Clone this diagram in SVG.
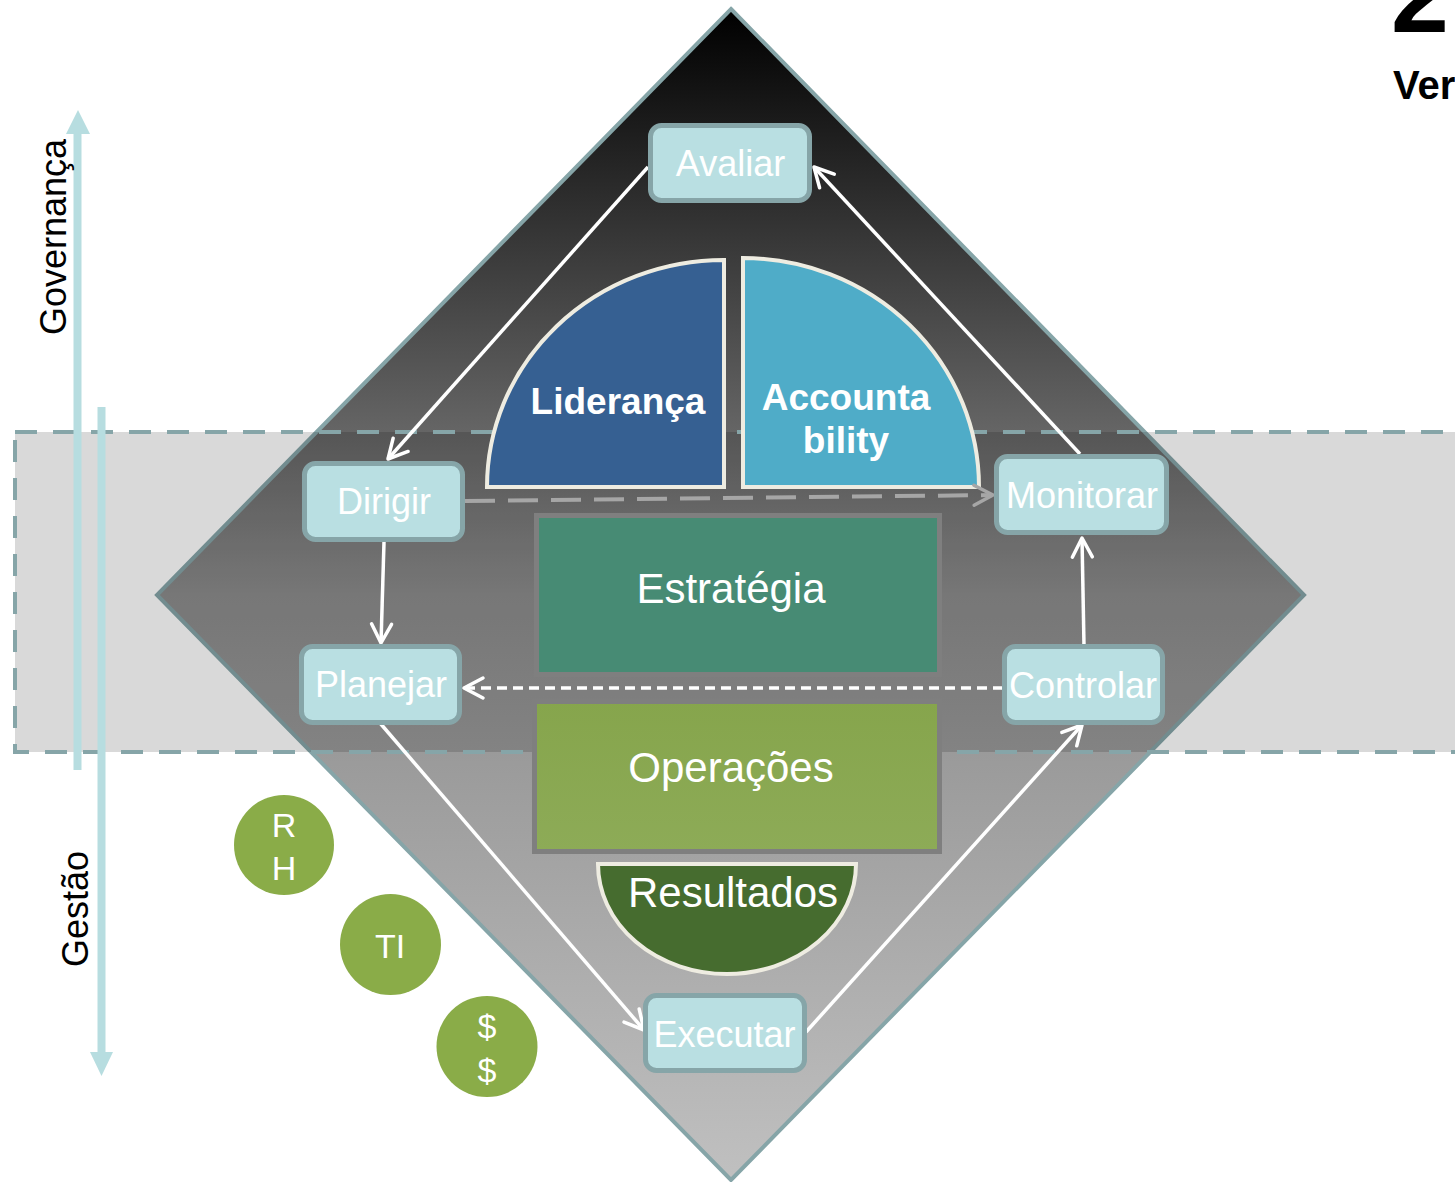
<svg xmlns="http://www.w3.org/2000/svg" width="1455" height="1182" viewBox="0 0 1455 1182">
  <style>
    text { font-family: "Liberation Sans", Arial, sans-serif; }
    .step rect { fill: #B9DFE2; stroke: #86A5A8; stroke-width: 5; }
    .step text { fill: #ffffff; font-size: 36px; text-anchor: middle; }
    .big { fill: #ffffff; font-size: 42px; text-anchor: middle; }
    .bold { fill: #ffffff; font-size: 37px; font-weight: bold; text-anchor: middle; }
    .res circle { fill: #8AAC48; }
    .res text { fill: #ffffff; font-size: 34px; text-anchor: middle; }
    .link { fill: none; stroke: #ffffff; stroke-width: 3.5; marker-end: url(#head); }
    .axis { stroke: #B7DDE0; stroke-width: 8; }
    .axis-label { fill: #000000; font-size: 36px; text-anchor: middle; }
  </style>
  <defs>
    <linearGradient id="diamondFill" x1="0" y1="0" x2="0" y2="1">
      <stop offset="0" stop-color="#000000"/>
      <stop offset="0.5" stop-color="#8c8c8c"/>
      <stop offset="1" stop-color="#c0c0c0"/>
    </linearGradient>
    <linearGradient id="opsFill" x1="0" y1="0" x2="0" y2="1">
      <stop offset="0" stop-color="#86A54C"/>
      <stop offset="1" stop-color="#8DAB57"/>
    </linearGradient>
    <marker id="head" viewBox="-24 -14 28 28" refX="0" refY="0" markerWidth="28" markerHeight="28" markerUnits="userSpaceOnUse" orient="auto">
      <path d="M-19,-10 L0,0 L-19,10" fill="none" stroke="#ffffff" stroke-width="3.5" stroke-linecap="round" stroke-linejoin="round"/>
    </marker>
    <marker id="headGray" viewBox="-24 -14 28 28" refX="0" refY="0" markerWidth="28" markerHeight="28" markerUnits="userSpaceOnUse" orient="auto">
      <path d="M-19,-10 L0,0 L-19,10" fill="none" stroke="#A6A6A6" stroke-width="3.5" stroke-linecap="round" stroke-linejoin="round"/>
    </marker>
  </defs>

  <rect width="1455" height="1182" fill="#ffffff"/>

  <!-- main diamond -->
  <g id="diamond">
    <polygon points="731,9 1304,595 731,1180 157,595" fill="url(#diamondFill)" stroke="#86A5A8" stroke-width="4" stroke-linejoin="miter"/>
  </g>

  <!-- governance / management overlap band -->
  <g id="band">
    <rect x="15" y="432" width="1500" height="320" fill="#000000" fill-opacity="0.15"/>
    <rect x="15" y="432" width="1500" height="320" fill="none" stroke="#86A5A8" stroke-width="4" stroke-dasharray="22 16"/>
  </g>

  <!-- pillars -->
  <g id="lideranca">
    <path d="M724,487 H487 A237,227 0 0 1 724,260 Z" fill="#366092" stroke="#EEECE1" stroke-width="4"/>
    <text class="bold" x="618" y="414">Liderança</text>
  </g>
  <g id="accountability">
    <path d="M743,487 V258 A236,229 0 0 1 979,487 Z" fill="#4FACC8" stroke="#EEECE1" stroke-width="4"/>
    <text class="bold" x="846" y="410">Accounta</text>
    <text class="bold" x="846" y="453">bility</text>
  </g>
  <g id="estrategia">
    <rect x="536.5" y="515.5" width="403" height="159" fill="#478B74" stroke="#7F7F7F" stroke-width="5"/>
    <text class="big" x="731" y="603">Estratégia</text>
  </g>
  <g id="operacoes">
    <rect x="534.5" y="701.5" width="405" height="150" fill="url(#opsFill)" stroke="#7F7F7F" stroke-width="5"/>
    <text class="big" x="731" y="782">Operações</text>
  </g>
  <g id="resultados">
    <path d="M598,864 H856 A129,110 0 0 1 598,864 Z" fill="#466C2F" stroke="#EEECE1" stroke-width="4"/>
    <text class="big" x="733" y="907">Resultados</text>
  </g>

  <!-- cycle connectors -->
  <g id="connectors">
    <line class="link" x1="648" y1="167" x2="388" y2="459"/>
    <line class="link" x1="1080" y1="454" x2="814" y2="167"/>
    <line class="link" x1="384" y1="542" x2="381" y2="643"/>
    <line class="link" x1="1084" y1="646" x2="1082" y2="538"/>
    <line class="link" x1="1003" y1="688" x2="464" y2="688" stroke-dasharray="10 6"/>
    <line class="link" x1="380" y1="723" x2="644" y2="1030"/>
    <line class="link" x1="806" y1="1032" x2="1082" y2="725"/>
    <line x1="465" y1="501" x2="993" y2="495" fill="none" stroke="#A6A6A6" stroke-width="4" stroke-dasharray="30 13" marker-end="url(#headGray)"/>
  </g>

  <!-- cycle steps -->
  <g id="avaliar" class="step">
    <rect x="650.5" y="125.5" width="159" height="75" rx="11"/>
    <text x="730.5" y="176">Avaliar</text>
  </g>
  <g id="dirigir" class="step">
    <rect x="304.5" y="463.5" width="158" height="76" rx="11"/>
    <text x="384" y="514">Dirigir</text>
  </g>
  <g id="planejar" class="step">
    <rect x="301.5" y="646.5" width="158" height="76" rx="11"/>
    <text x="381" y="697">Planejar</text>
  </g>
  <g id="monitorar" class="step">
    <rect x="996.5" y="456.5" width="170" height="76" rx="11"/>
    <text x="1082" y="508">Monitorar</text>
  </g>
  <g id="controlar" class="step">
    <rect x="1004.5" y="646.5" width="158" height="76" rx="11"/>
    <text x="1083" y="698">Controlar</text>
  </g>
  <g id="executar" class="step">
    <rect x="645.5" y="995.5" width="159" height="75" rx="11"/>
    <text x="724.5" y="1047">Executar</text>
  </g>

  <!-- resources -->
  <g id="rh" class="res">
    <circle cx="284" cy="845" r="50"/>
    <text x="284" y="837">R</text>
    <text x="284" y="880">H</text>
  </g>
  <g id="ti" class="res">
    <circle cx="390.5" cy="944.5" r="50.5"/>
    <text x="390" y="958">TI</text>
  </g>
  <g id="dinheiro" class="res">
    <circle cx="487" cy="1046.5" r="50.5"/>
    <text x="487" y="1038">$</text>
    <text x="487" y="1082">$</text>
  </g>

  <!-- axes -->
  <g id="governanca">
    <line class="axis" x1="77.5" y1="770" x2="77.5" y2="130"/>
    <polygon points="66,134 78,110 90,134" fill="#B7DDE0"/>
    <text class="axis-label" transform="translate(66,237) rotate(-90)">Governança</text>
  </g>
  <g id="gestao">
    <line class="axis" x1="101.5" y1="407" x2="101.5" y2="1056"/>
    <polygon points="90,1052 113,1052 101.5,1076" fill="#B7DDE0"/>
    <text class="axis-label" transform="translate(88,909) rotate(-90)">Gestão</text>
  </g>

  <!-- heading -->
  <g id="heading">
    <text x="1391" y="32" font-size="104" font-weight="bold" fill="#000000">2</text>
    <text x="1393" y="99" font-size="40" font-weight="bold" fill="#000000">Ver</text>
  </g>
</svg>
